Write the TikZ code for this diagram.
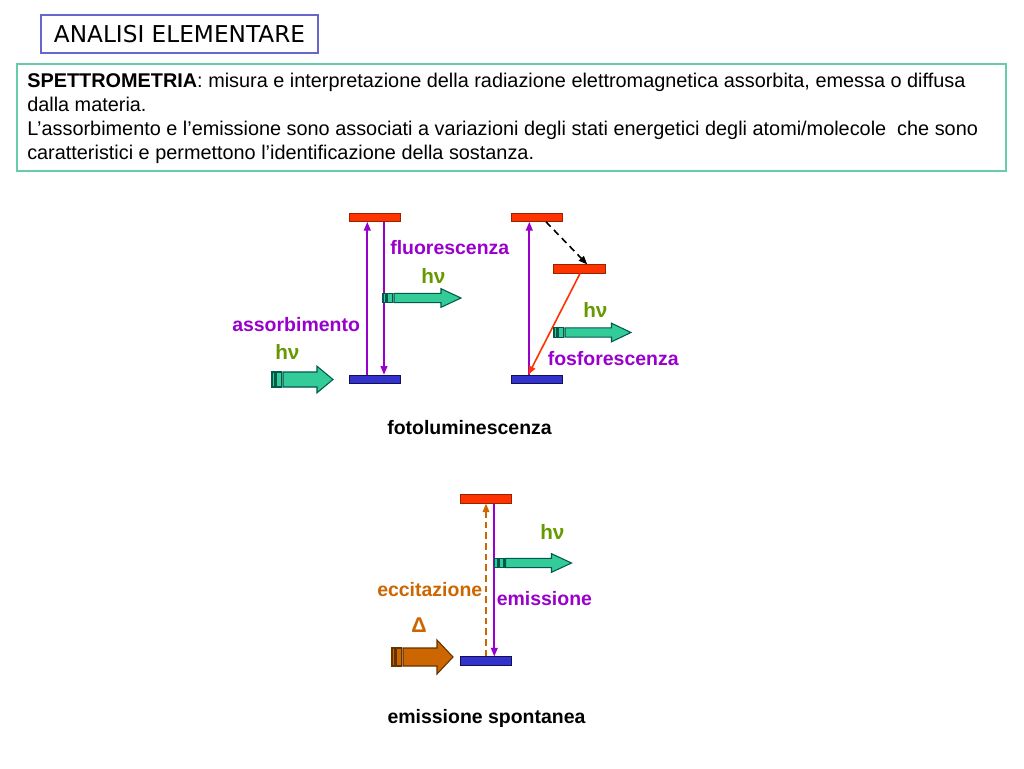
\documentclass[tikz,border=0pt]{standalone}
\usepackage{fontspec}
\setmainfont{Liberation Sans}
\newfontfamily\titlefont{DejaVu Sans}
\usetikzlibrary{arrows.meta}
\definecolor{barred}{HTML}{FF3300}
\definecolor{barredline}{HTML}{992200}
\definecolor{barblue}{HTML}{3333CC}
\definecolor{barblueline}{HTML}{10105A}
\definecolor{vio}{HTML}{9900CC}
\definecolor{hvgreen}{HTML}{669900}
\definecolor{tealfill}{HTML}{33CC99}
\definecolor{tealline}{HTML}{00594A}
\definecolor{orfill}{HTML}{CC6600}
\definecolor{orline}{HTML}{663300}
\definecolor{titlebox}{HTML}{6666CC}
\definecolor{mainbox}{HTML}{66CCAA}
\newcommand{\mystripearrow}[8]{%
 \filldraw[fill=#7,draw=#8,line width=0.8pt] (#1,{#3-#4}) rectangle ({#1+3},{#3+#4});
 \filldraw[fill=#7,draw=#8,line width=0.8pt] ({#1+4.5},{#3-#4}) rectangle ({#1+9.5},{#3+#4});
 \filldraw[fill=#7,draw=#8,line width=0.8pt,line join=miter] ({#1+11},{#3-#4}) -- ({#2-#6},{#3-#4}) -- ({#2-#6},{#3-#5}) -- (#2,#3) -- ({#2-#6},{#3+#5}) -- ({#2-#6},{#3+#4}) -- ({#1+11},{#3+#4}) -- cycle;
}
\begin{document}
\begin{tikzpicture}[x=0.75pt,y=-0.75pt,
  redbar/.style={draw=barredline,fill=barred,line width=0.6pt,minimum width=38.6pt,minimum height=6.2pt,inner sep=0pt},
  bluebar/.style={draw=barblueline,fill=barblue,line width=0.6pt,minimum width=38.6pt,minimum height=6.2pt,inner sep=0pt},
  lbl/.style={font=\bfseries\fontsize{14.6}{17}\selectfont,inner sep=0pt,anchor=base west},
  body/.style={font=\fontsize{14.9}{17}\selectfont,inner sep=0pt,anchor=base west},
  hv/.style={lbl,text=hvgreen,font=\bfseries\fontsize{15.5}{17}\selectfont},
  vioarrow/.style={draw=vio,line width=1.3pt,-{Triangle[length=6.5pt,width=5pt]}},
]
\useasboundingbox (0,0) rectangle (1024,768);
\fill[white] (0,0) rectangle (1024,768);

% title
\node[draw=titlebox,line width=0.8pt,minimum width=207.75pt,minimum height=28.5pt,inner sep=0pt,
  font=\titlefont\fontsize{17.4}{20}\selectfont] (title) at (179.5,34) {ANALISI ELEMENTARE};

% main text box
\draw[mainbox,line width=1.1pt] (17,64) rectangle (1006,171);
\node[body] (l1) at (27,87) {\textbf{SPETTROMETRIA}: misura e interpretazione della radiazione elettromagnetica assorbita, emessa o diffusa};
\node[body] (l2) at (27,111) {dalla materia.};
\node[body] (l3) at (27,135) {L’assorbimento e l’emissione sono associati a variazioni degli stati energetici degli atomi/molecole~ che sono};
\node[body] (l4) at (27,159) {caratteristici e permettono l’identificazione della sostanza.};

% ---- fluorescence diagram
\node[redbar] (atop) at (375,217.3) {};
\node[bluebar] (alow) at (375,379.3) {};
\draw[vioarrow] (alow.north -| 367.3,0) -- (atop.south -| 367.3,0);
\draw[vioarrow] (atop.south -| 384,0) -- (alow.north -| 384,0);
\mystripearrow{272}{333}{379.5}{7.5}{13.3}{16}{tealfill}{tealline}
\mystripearrow{383}{461}{298}{4.7}{9.3}{20}{tealfill}{tealline}
\node[lbl,text=vio] (fluo) at (390,254) {fluorescenza};
\node[hv] (hv1) at (421,283) {hν};
\node[lbl,text=vio] (assorb) at (232,331) {assorbimento};
\node[hv] (hv2) at (275,359) {hν};

% ---- phosphorescence diagram
\node[redbar] (ptop) at (537,217.3) {};
\node[redbar] (pmid) at (579.5,269) {};
\node[bluebar] (plow) at (537,379.3) {};
\draw[vioarrow] (plow.north -| 529.3,0) -- (ptop.south -| 529.3,0);
\draw[black,line width=1.2pt,dash pattern=on 5pt off 3.5pt,-{Triangle[length=6.5pt,width=5pt]}] (ptop.south -| 546,0) -- (pmid.north -| 587.3,0);
\draw[draw=barred,line width=1.2pt,-{Triangle[length=6.5pt,width=5pt]}] (pmid.south -| 580,0) -- (plow.north -| 528.3,0);
\mystripearrow{554}{631}{332.5}{4.7}{9.3}{19.5}{tealfill}{tealline}
\node[hv] (hv3) at (583,317) {hν};
\node[lbl,text=vio] (fosfo) at (547.5,365.5) {fosforescenza};

\node[lbl,anchor=base] (fotolum) at (469.5,434) {fotoluminescenza};

% ---- spontaneous emission
\node[redbar] (etop) at (486,499) {};
\node[bluebar] (elow) at (486,661) {};
\draw[draw=orfill,line width=1.2pt,dash pattern=on 5pt off 3pt,-{Triangle[length=6.5pt,width=5pt]}] (elow.north -| 486,0) -- (etop.south -| 486,0);
\draw[vioarrow] (etop.south -| 494.3,0) -- (elow.north -| 494.3,0);
\mystripearrow{494.5}{571.5}{563}{4.7}{9.3}{20}{tealfill}{tealline}
\mystripearrow{392}{453}{657}{9}{17}{16}{orfill}{orline}
\node[hv] (hv4) at (540,539) {hν};
\node[lbl,text=orfill] (eccit) at (377,596) {eccitazione};
\node[lbl,text=vio] (emis) at (496.5,605) {emissione};
\node[lbl,text=orfill,font=\bfseries\fontsize{16}{17}\selectfont] (delta) at (411,632) {Δ};

\node[lbl,anchor=base] (spont) at (486.5,723) {emissione spontanea};
\end{tikzpicture}
\end{document}
